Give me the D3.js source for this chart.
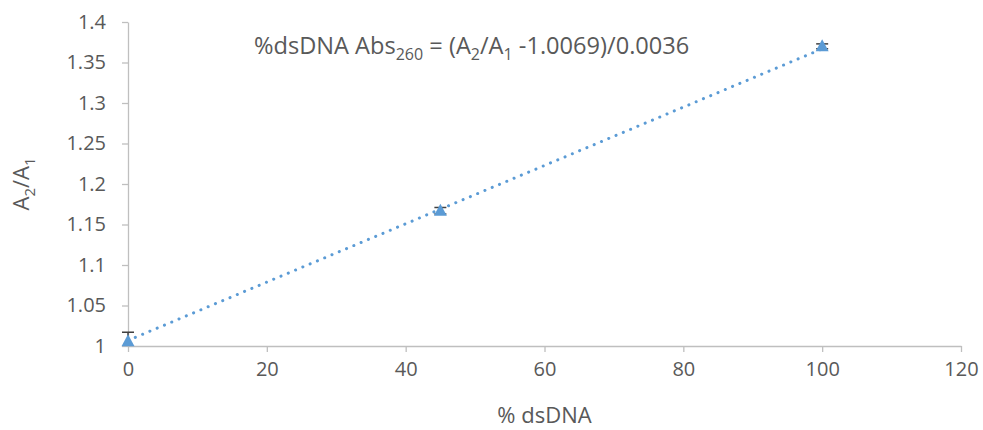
<!DOCTYPE html>
<html>
<head>
<meta charset="utf-8">
<script src="https://cdn.jsdelivr.net/npm/d3@7"></script>
<style>
	body { margin: 0; background: #fff; }
	text { font-family: "Open Sans", sans-serif; fill: #595959; }
</style>
</head>
<body>
<div class="svg-container"></div>
<script>
(function () {

	"use strict";

	// data
	var pct_dsdna 	= [ 0, 45, 100 ];
	var ratio 		= [ 1.006, 1.167, 1.370 ];
	var ratio_err 	= [ 0.011, 0.004, 0.003 ];

	var x_ticks 	= [ 0, 20, 40, 60, 80, 100, 120 ];
	var y_ticks 	= [ 1, 1.05, 1.1, 1.15, 1.2, 1.25, 1.3, 1.35, 1.4 ];

	// trendline: y = slope * x + intercept
	var slope 		= 0.0036;
	var intercept 	= 1.0069;

	var blue 		= "#5B9BD5";
	var axis_color 	= "#BFBFBF";

	var width 	= 983,
		height 	= 430,
		margin 	= { "top": 22, "right": 22, "bottom": 84, "left": 128 };

	var svg = d3.select(".svg-container").append("svg")
		.attr("width", width)
		.attr("height", height);

	var x = d3.scaleLinear().domain([0, 120]).range([margin.left, width - margin.right]);
	var y = d3.scaleLinear().domain([1, 1.4]).range([height - margin.bottom, margin.top]);

	svg.append("clipPath")
		.attr("id", "plot-clip")
		.append("rect")
		.attr("x", x(0) - 20)
		.attr("y", y(1.4))
		.attr("width", x(120) - x(0) + 40)
		.attr("height", y(1) - y(1.4));

	// axes
	var xAxis = svg.append("g")
		.attr("transform", "translate(0," + y(1) + ")")
		.call(d3.axisBottom(x).tickValues(x_ticks).tickSize(6).tickPadding(10).tickSizeOuter(0));

	var yAxis = svg.append("g")
		.attr("transform", "translate(" + x(0) + ",0)")
		.call(d3.axisLeft(y).tickValues(y_ticks).tickSize(6).tickPadding(16).tickSizeOuter(0)
			.tickFormat(function (d) { return d3.format("")(+d.toFixed(2)); }));

	[ xAxis, yAxis ].forEach(function (a) {
		a.select(".domain").attr("stroke", axis_color).attr("stroke-width", 1.3);
		a.selectAll(".tick line").attr("stroke", axis_color).attr("stroke-width", 1.3);
		a.selectAll(".tick text")
			.attr("fill", "#595959")
			.style("font-size", "20px")
			.style("font-family", "'Open Sans', sans-serif");
	});

	// trendline
	svg.append("line")
		.attr("x1", x(0)).attr("y1", y(intercept))
		.attr("x2", x(100)).attr("y2", y(slope * 100 + intercept))
		.attr("stroke", blue)
		.attr("stroke-width", 3)
		.attr("stroke-linecap", "round")
		.attr("stroke-dasharray", "0.1 7.8");

	var pts = d3.range(pct_dsdna.length).map(function (i) {
		return { x: pct_dsdna[i], y: ratio[i], e: ratio_err[i] };
	});

	// error bars
	var err = svg.append("g")
		.attr("clip-path", "url(#plot-clip)")
		.selectAll(".err")
		.data(pts)
		.enter()
		.append("g")
		.attr("class", "err")
		.attr("stroke", "#404040")
		.attr("stroke-width", 1.5);

	err.append("line")
		.attr("x1", function (d) { return x(d.x); })
		.attr("x2", function (d) { return x(d.x); })
		.attr("y1", function (d) { return y(d.y - d.e); })
		.attr("y2", function (d) { return y(d.y + d.e); });

	[ -1, 1 ].forEach(function (s) {
		err.append("line")
			.attr("x1", function (d) { return x(d.x) - 6; })
			.attr("x2", function (d) { return x(d.x) + 6; })
			.attr("y1", function (d) { return y(d.y + s * d.e); })
			.attr("y2", function (d) { return y(d.y + s * d.e); });
	});

	// markers
	svg.selectAll(".marker")
		.data(pts)
		.enter()
		.append("path")
		.attr("class", "marker")
		.attr("d", "M0,-7L6.5,5L-6.5,5Z")
		.attr("fill", blue)
		.attr("transform", function (d) { return "translate(" + x(d.x) + "," + y(d.y) + ")"; });

	// text with subscripts: [ text, is_subscript ]
	function richText(sel, parts, size, sub_size) {
		var shift = 0;
		parts.forEach(function (p) {
			var target = p[1] ? 6 : 0;
			sel.append("tspan")
				.attr("dy", target - shift)
				.style("font-size", (p[1] ? sub_size : size) + "px")
				.text(p[0]);
			shift = target;
		});
	}

	// equation
	var eq = svg.append("text")
		.attr("x", 254)
		.attr("y", 54);

	richText(eq, [
		[ "%dsDNA Abs", false ], [ "260", true ], [ " = (A", false ], [ "2", true ],
		[ "/A", false ], [ "1", true ], [ " -1.0069)/0.0036", false ]
	], 23.6, 16);

	// axis titles
	svg.append("text")
		.attr("x", x(60))
		.attr("y", 423)
		.attr("text-anchor", "middle")
		.style("font-size", "22px")
		.text("% dsDNA");

	var yt = svg.append("text")
		.attr("transform", "translate(29," + y(1.2) + ") rotate(-90)")
		.attr("text-anchor", "middle");

	richText(yt, [ [ "A", false ], [ "2", true ], [ "/A", false ], [ "1", true ] ], 22, 15);

})();
</script>
</body>
</html>
